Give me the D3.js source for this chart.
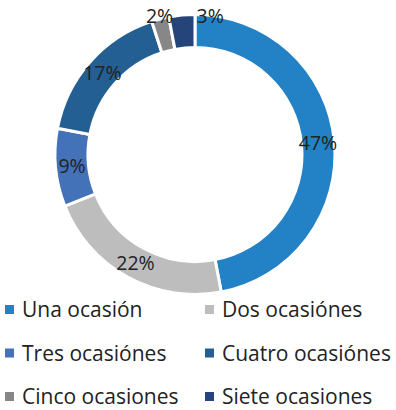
<!DOCTYPE html>
<html>
<head>
<meta charset="utf-8">
<script src="https://cdn.jsdelivr.net/npm/d3@7/dist/d3.min.js"></script>
<style>
  html, body { margin: 0; padding: 0; background: #ffffff; }
  svg { display: block; }
  text { font-family: "Open Sans", "Noto Sans", sans-serif; fill: #222222; }
</style>
</head>
<body>
<svg id="chart" width="396" height="410"></svg>
<script>
// Number of occasions — share of respondents
const categories = ["Una ocasión", "Dos ocasiónes", "Tres ocasiónes", "Cuatro ocasiónes", "Cinco ocasiones", "Siete ocasiones"];
const shares = [47, 22, 9, 17, 2, 3];
const colors = ["#2381C6", "#BDBDBD", "#4472B8", "#245F93", "#878787", "#25447A"];

const width = 396, height = 410;
const cx = 195, cy = 154.5;
const outerR = 140, innerR = 107;

const svg = d3.select("#chart");
const g = svg.append("g").attr("transform", `translate(${cx},${cy})`);

const pie = d3.pie().sort(null).value(d => d.value);
const arcs = pie(categories.map((c, i) => ({ name: c, value: shares[i], color: colors[i] })));

const arc = d3.arc().innerRadius(innerR).outerRadius(outerR);
const midArc = d3.arc().innerRadius((innerR + outerR) / 2).outerRadius((innerR + outerR) / 2);
const edgeArc = d3.arc().innerRadius(outerR + 2.5).outerRadius(outerR + 2.5);

g.selectAll("path.slice")
  .data(arcs)
  .join("path")
  .attr("class", "slice")
  .attr("d", arc)
  .attr("fill", d => d.data.color)
  .attr("stroke", "#ffffff")
  .attr("stroke-width", 3)
  .attr("stroke-linejoin", "miter");

// Percentage labels: inside the ring, small slices moved to the outer edge
const fmt = d => d3.format(".0f")(d.data.value) + "%";
const labels = g.selectAll("text.pct")
  .data(arcs)
  .join("text")
  .attr("class", "pct")
  .attr("font-size", 19.5)
  .attr("dy", "0.35em")
  .attr("text-anchor", "middle")
  .text(fmt)
  .each(function (d) {
    const small = d.data.value < 5;
    const [x, y] = (small ? edgeArc : midArc).centroid(d);
    d3.select(this).attr("x", x).attr("y", y);
  });

// Resolve overlapping outer labels: push the later one past the top seam,
// keeping it on the same line as its neighbour
let prev = null;
labels.filter(d => d.data.value < 5).each(function () {
  const b = this.getBBox();
  if (prev !== null && b.x < prev.right + 2) {
    d3.select(this).attr("text-anchor", "start").attr("x", 1.5).attr("y", prev.y);
  }
  const nb = this.getBBox();
  prev = { right: nb.x + nb.width, y: +d3.select(this).attr("y") };
});

// Legend: two columns, three rows
const legendCols = [5, 205];
const rowY = [309.5, 353, 396.5];
const legend = svg.append("g").attr("class", "legend");
const items = legend.selectAll("g.item")
  .data(categories)
  .join("g")
  .attr("class", "item")
  .attr("transform", (d, i) => `translate(${legendCols[i % 2]},${rowY[Math.floor(i / 2)]})`);

items.append("rect")
  .attr("x", 0).attr("y", -4.5)
  .attr("width", 9).attr("height", 9)
  .attr("fill", (d, i) => colors[i]);

items.append("text")
  .attr("x", 17)
  .attr("dy", "0.36em")
  .attr("font-size", 21)
  .text(d => d);
</script>
</body>
</html>
